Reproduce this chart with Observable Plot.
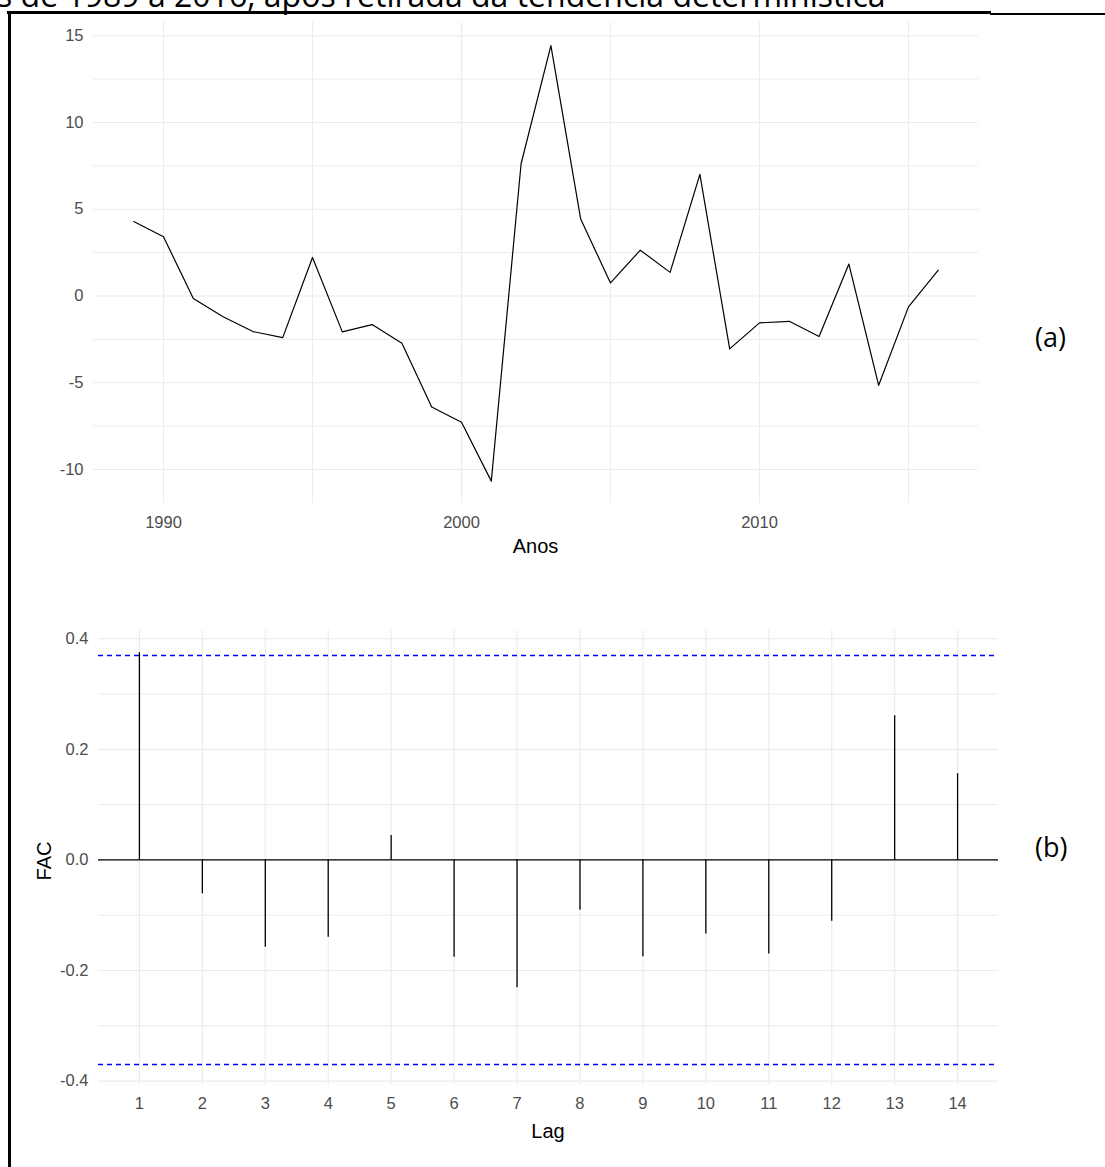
<!DOCTYPE html>
<html>
<head>
<meta charset="utf-8">
<script src="https://cdn.jsdelivr.net/npm/d3@7"></script>
<script src="https://cdn.jsdelivr.net/npm/@observablehq/plot@0.6"></script>
<style>
  html, body { margin: 0; padding: 0; background: #fff; }
  #wrap { position: relative; width: 1105px; height: 1167px; overflow: hidden; background: #fff; }
  .abs { position: absolute; }
  .line { position: absolute; background: #000; }
  .tag { position: absolute; font-family: "Open Sans", sans-serif; font-size: 27px; color: #000; line-height: 1; }
  .plotbox svg text { font-family: "Liberation Sans", Arial, sans-serif; }
</style>
</head>
<body>
<div id="wrap">
  <svg class="abs" style="left:0;top:0" width="1105" height="30">
    <text id="titulo" x="-3" y="7" style="font-family:'Open Sans',sans-serif;font-size:32px" fill="#000"></text>
  </svg>
  <div class="line" style="left:7px;top:11px;width:984px;height:2.5px"></div>
  <div class="line" style="left:990px;top:12.5px;width:115px;height:2.5px"></div>
  <div class="line" style="left:7.5px;top:11px;width:3px;height:1160px"></div>
  <div id="top" class="abs plotbox" style="left:0;top:0"></div>
  <div id="bot" class="abs plotbox" style="left:0;top:600px"></div>
  <div class="tag" id="tagA" style="left:1035px;top:323px"></div>
  <div class="tag" id="tagB" style="left:1035px;top:833px"></div>
</div>
<script>
// ---- text ----
const titulo = "s de 1989 a 2016, após retirada da tendência determinística";
const rotuloA = "(a)";
const rotuloB = "(b)";

// ---- panel (a): detrended series ----
const anos = [1989, 1990, 1991, 1992, 1993, 1994, 1995, 1996, 1997, 1998,
              1999, 2000, 2001, 2002, 2003, 2004, 2005, 2006, 2007, 2008,
              2009, 2010, 2011, 2012, 2013, 2014, 2015, 2016];
const valores = [4.29, 3.41, -0.15, -1.2, -2.05, -2.4, 2.22, -2.07, -1.65, -2.72,
                 -6.4, -7.28, -10.67, 7.62, 14.43, 4.43, 0.75, 2.64, 1.36, 7.01,
                 -3.05, -1.55, -1.46, -2.34, 1.84, -5.15, -0.63, 1.49];
const anosTicks = [1990, 2000, 2010];
const anosMinor = [1995, 2005, 2015];
const yTicksA = [-10, -5, 0, 5, 10, 15];
const yMinorA = [-7.5, -2.5, 2.5, 7.5, 12.5];

// ---- panel (b): ACF ----
const lags = [1, 2, 3, 4, 5, 6, 7, 8, 9, 10, 11, 12, 13, 14];
const fac = [0.375, -0.061, -0.158, -0.140, 0.044, -0.176, -0.231, -0.091,
             -0.175, -0.134, -0.170, -0.111, 0.261, 0.156];
const limiteIC = [0.37, -0.37];
const yTicksB = [-0.4, -0.2, 0.0, 0.2, 0.4];
const yMinorB = [-0.3, -0.1, 0.1, 0.3];

document.getElementById("titulo").textContent = titulo;
document.getElementById("tagA").textContent = rotuloA;
document.getElementById("tagB").textContent = rotuloB;

const grid = "#EBEBEB";
const tickColor = "#4D4D4D";
const tickFont = 16.5;

const serie = anos.map((a, i) => ({ano: a, valor: valores[i]}));
const acf = lags.map((l, i) => ({lag: l, fac: fac[i]}));

const plotA = Plot.plot({
  width: 1000, height: 560,
  marginLeft: 93, marginRight: 22, marginTop: 22, marginBottom: 57,
  style: {fontFamily: "Liberation Sans, Arial, sans-serif", fontSize: "16px", background: "transparent"},
  x: {domain: [1987.65, 2017.35], label: null},
  y: {domain: [-11.96, 15.76], label: null},
  marks: [
    Plot.ruleY(yMinorA, {stroke: grid, strokeWidth: 1}),
    Plot.ruleX(anosMinor, {stroke: grid, strokeWidth: 1}),
    Plot.ruleY(yTicksA, {stroke: grid, strokeWidth: 1.1}),
    Plot.ruleX(anosTicks, {stroke: grid, strokeWidth: 1.1}),
    Plot.axisX({ticks: anosTicks, tickFormat: d => String(d), tickSize: 0, tickPadding: 13, color: tickColor,
                fontSize: tickFont, label: null}),
    Plot.axisY({ticks: yTicksA, tickFormat: d => String(d), tickSize: 0, tickPadding: 10, color: tickColor,
                fontSize: tickFont, label: null}),
    Plot.line(serie, {x: "ano", y: "valor", stroke: "#000", strokeWidth: 1.2})
  ]
});
document.getElementById("top").appendChild(plotA);

const plotB = Plot.plot({
  width: 1020, height: 567,
  marginLeft: 98, marginRight: 22, marginTop: 30, marginBottom: 82,
  style: {fontFamily: "Liberation Sans, Arial, sans-serif", fontSize: "16px", background: "transparent"},
  x: {domain: [0.35, 14.65], label: null},
  y: {domain: [-0.408, 0.415], label: null},
  marks: [
    Plot.ruleY(yMinorB, {stroke: grid, strokeWidth: 1}),
    Plot.ruleY(yTicksB, {stroke: grid, strokeWidth: 1.1}),
    Plot.ruleX(lags, {stroke: grid, strokeWidth: 1.1}),
    Plot.axisX({ticks: lags, tickFormat: d => String(d), tickSize: 0, tickPadding: 12, color: tickColor,
                fontSize: tickFont, label: null}),
    Plot.axisY({ticks: yTicksB, tickFormat: d => d.toFixed(1).replace("-0.0", "0.0"), tickSize: 0, tickPadding: 10,
                color: tickColor, fontSize: tickFont, label: null}),
    Plot.ruleY([0], {stroke: "#000", strokeWidth: 1.3}),
    Plot.ruleY(limiteIC, {stroke: "#0000FF", strokeWidth: 1.5, strokeDasharray: "5,4"}),
    Plot.ruleX(acf, {x: "lag", y1: 0, y2: "fac", stroke: "#000", strokeWidth: 1.3})
  ]
});
document.getElementById("bot").appendChild(plotB);

// axis titles as text inside the SVGs
function addText(svg, x, y, txt, opts = {}) {
  const t = document.createElementNS("http://www.w3.org/2000/svg", "text");
  t.setAttribute("x", x); t.setAttribute("y", y);
  t.setAttribute("text-anchor", "middle");
  t.setAttribute("dominant-baseline", "central");
  t.setAttribute("font-size", opts.size || 20);
  t.setAttribute("fill", "#000");
  if (opts.rotate) t.setAttribute("transform", `rotate(-90 ${x} ${y})`);
  t.textContent = txt;
  svg.appendChild(t);
}
addText(plotA, 535.5, 546, "Anos");
addText(plotB, 548, 531, "Lag");
addText(plotB, 44, 261, "FAC", {rotate: true});
</script>
</body>
</html>
